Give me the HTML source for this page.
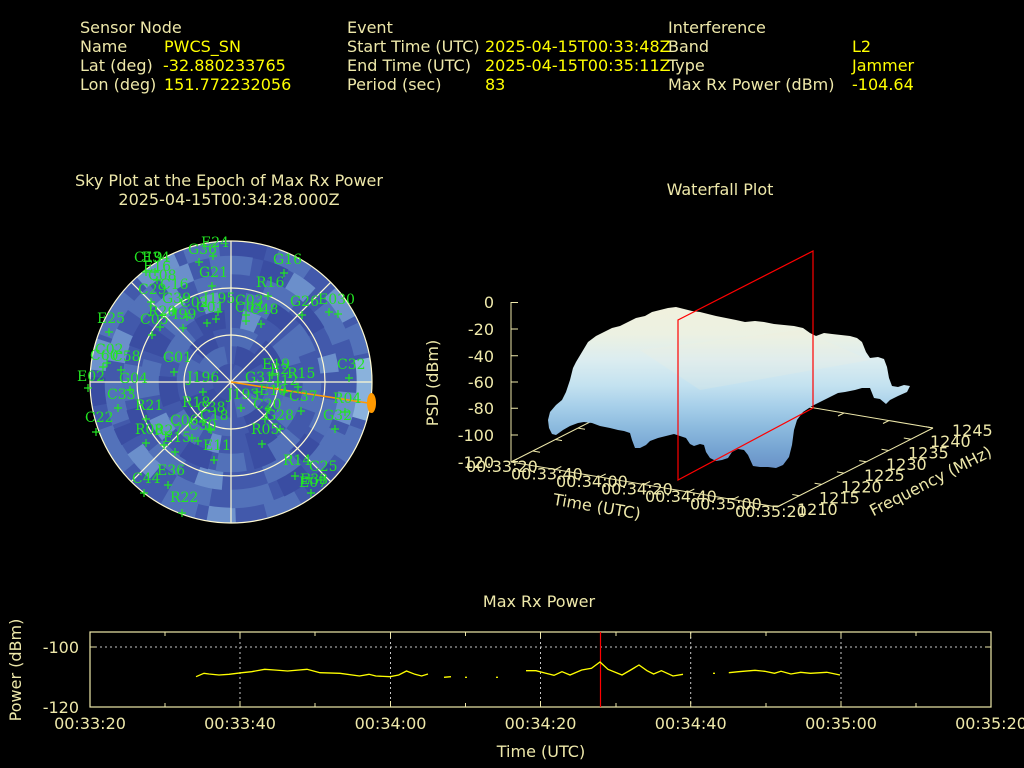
<!DOCTYPE html>
<html><head><meta charset="utf-8"><style>
html,body{margin:0;padding:0;background:#000;}
svg{display:block;}
text{font-family:"DejaVu Sans","Liberation Sans",sans-serif;font-size:16px;}
.l{fill:#eee8aa}
.v{fill:#ffff00}
text.g{font-family:"DejaVu Serif","Liberation Serif",serif;font-size:14px;fill:#22e622}
</style></head><body>
<svg width="1024" height="768" viewBox="0 0 1024 768" xmlns="http://www.w3.org/2000/svg">
<defs>
<clipPath id="disc"><circle cx="231" cy="382" r="141"/></clipPath>
<linearGradient id="wf" gradientUnits="userSpaceOnUse" x1="0" y1="300" x2="0" y2="470">
<stop offset="0" stop-color="#f2f1dc"/>
<stop offset="0.2" stop-color="#ecf1e2"/>
<stop offset="0.35" stop-color="#dcedf0"/>
<stop offset="0.5" stop-color="#c4e2f0"/>
<stop offset="0.62" stop-color="#a8d0ea"/>
<stop offset="0.75" stop-color="#8cbade"/>
<stop offset="0.88" stop-color="#76a4d2"/>
<stop offset="1" stop-color="#6890c6"/>
</linearGradient>
</defs>
<rect width="1024" height="768" fill="#000"/>

<!-- Header -->
<text class="l" x="80" y="33">Sensor Node</text>
<text class="l" x="80" y="52">Name</text><text class="v" x="164" y="52">PWCS_SN</text>
<text class="l" x="80" y="71">Lat (deg)</text><text class="v" x="163" y="71">-32.880233765</text>
<text class="l" x="80" y="90">Lon (deg)</text><text class="v" x="164" y="90">151.772232056</text>

<text class="l" x="347" y="33">Event</text>
<text class="l" x="347" y="52">Start Time (UTC)</text><text class="v" x="485" y="52">2025-04-15T00:33:48Z</text>
<text class="l" x="347" y="71">End Time (UTC)</text><text class="v" x="485" y="71">2025-04-15T00:35:11Z</text>
<text class="l" x="347" y="90">Period (sec)</text><text class="v" x="485" y="90">83</text>

<text class="l" x="668" y="33">Interference</text>
<text class="l" x="668" y="52">Band</text><text class="v" x="852" y="52">L2</text>
<text class="l" x="668" y="71">Type</text><text class="v" x="852" y="71">Jammer</text>
<text class="l" x="668" y="90">Max Rx Power (dBm)</text><text class="v" x="852" y="90">-104.64</text>

<!-- Sky plot titles -->
<text class="l" x="229" y="186" text-anchor="middle">Sky Plot at the Epoch of Max Rx Power</text>
<text class="l" x="229" y="205" text-anchor="middle">2025-04-15T00:34:28.000Z</text>

<!-- Sky plot mosaic -->
<g clip-path="url(#disc)">
<circle cx="231" cy="382" r="141" fill="#4259ab"/>
<g fill="none" stroke-width="18.6" transform="translate(231 382)">
<circle r="135" pathLength="360" stroke="#5372ba" stroke-dasharray="0 20 15 25 15 30 15 20 20 40 20 30 15 25 15 30 13 12"/>
<circle r="135" pathLength="360" stroke="#3a4da2" stroke-dasharray="0 40 15 115 12 88 15 75"/>
<circle r="135" pathLength="360" stroke="#6e92cc" stroke-dasharray="0 88 12 85 13 30 18 72 14 38"/>
<circle r="135" pathLength="360" stroke="#8ab2dc" stroke-dasharray="16 334 10"/>

<circle r="117" pathLength="360" stroke="#5372ba" stroke-dasharray="0 25 20 25 20 10 20 40 20 35 15 30 20 40 20 20"/>
<circle r="117" pathLength="360" stroke="#3a4da2" stroke-dasharray="0 50 15 85 8 127 12 63"/>
<circle r="117" pathLength="360" stroke="#6b8fcb" stroke-dasharray="0 5 15 110 15 45 15 30 15 50 12 48"/>

<circle r="99" pathLength="360" stroke="#5271b9" stroke-dasharray="0 10 20 20 20 50 20 30 20 60 20 20 20 50"/>
<circle r="99" pathLength="360" stroke="#3a4da2" stroke-dasharray="0 35 13 102 15 35 15 100 15 30"/>
<circle r="99" pathLength="360" stroke="#6b8fcb" stroke-dasharray="0 95 15 115 15 105 10 5"/>

<circle r="81" pathLength="360" stroke="#5271b9" stroke-dasharray="20 20 20 20 20 70 25 25 20 40 20 20 20 20"/>
<circle r="81" pathLength="360" stroke="#3a4da2" stroke-dasharray="0 60 15 30 20 75 15 85 15 45"/>
<circle r="81" pathLength="360" stroke="#6b8fcb" stroke-dasharray="0 140 15 95 12 98"/>

<circle r="63" pathLength="360" stroke="#5271b9" stroke-dasharray="0 15 25 80 30 50 30 90 25 15"/>
<circle r="63" pathLength="360" stroke="#3a4da2" stroke-dasharray="0 50 25 85 25 55 25 95"/>
<circle r="63" pathLength="360" stroke="#6b8fcb" stroke-dasharray="0 100 10 170 15 65"/>

<circle r="45" pathLength="360" stroke="#4e6cb6" stroke-dasharray="30 60 30 60 30 60 30 60"/>
<circle r="45" pathLength="360" stroke="#3a4da2" stroke-dasharray="0 40 30 60 30 60 30 60 30 20"/>

<circle r="27" pathLength="360" stroke="#4e6cb6" stroke-dasharray="0 30 50 120 60 100"/>
<circle r="27" pathLength="360" stroke="#3a4da2" stroke-dasharray="0 100 60 120 50 30"/>
<circle r="9" pathLength="360" stroke="#3e52a6" stroke-dasharray="0 90 180 90"/>
</g>
</g>

<!-- Sky grid -->
<g fill="none" stroke="#fffad2" stroke-width="1.2">
<circle cx="231" cy="382" r="141"/>
<circle cx="231" cy="382" r="94"/>
<circle cx="231" cy="382" r="47"/>
<line x1="90" y1="382" x2="372" y2="382"/>
<line x1="231" y1="241" x2="231" y2="523"/>
<line x1="131.3" y1="282.3" x2="330.7" y2="481.7"/>
<line x1="131.3" y1="481.7" x2="330.7" y2="282.3"/>
</g>

<!-- Orange jammer line -->
<line x1="231" y1="382" x2="368" y2="403" stroke="#ff9900" stroke-width="1.6"/>
<ellipse cx="371.5" cy="403" rx="4.5" ry="10" fill="#ff9900"/>

<!-- Satellite markers -->
<path stroke="#22e622" stroke-width="1.2" fill="none" d="
M195,262h8M199,258v8 M209,256h8M213,252v8 M142,272h8M146,268v8 M151,272h8M155,268v8
M153,280h8M157,276v8 M147,302h8M151,298v8 M169,311h8M173,307v8 M156,327h8M160,323v8
M148,335h8M152,331v8 M179,328h8M183,324v8 M183,317h8M187,313v8 M203,323h8M207,319v8
M212,319h8M216,315v8 M214,312h8M218,308v8 M242,315h8M246,311v8 M242,321h8M246,317v8
M257,324h8M261,320v8 M208,286h8M212,282v8 M280,273h8M284,269v8 M264,296h8M268,292v8
M298,315h8M302,311v8 M325,312h8M329,308v8 M334,314h8M338,310v8 M105,332h8M109,328v8
M99,367h8M103,363v8 M103,363h8M107,359v8 M117,370h8M121,366v8 M84,388h8M88,384v8
M126,390h8M130,386v8 M170,372h8M174,368v8 M199,392h8M203,388v8 M345,378h8M349,374v8
M268,375h8M272,371v8 M274,382h8M278,378v8 M253,392h8M257,388v8 M294,387h8M298,383v8
M280,392h8M284,388v8 M114,408h8M118,404v8 M237,408h8M241,404v8 M297,411h8M301,407v8
M341,412h8M345,408v8 M142,419h8M146,415v8 M205,429h8M209,425v8 M199,422h8M203,418v8
M265,410h8M269,406v8 M261,419h8M265,415v8 M276,429h8M280,425v8 M331,429h8M335,425v8
M92,432h8M96,428v8 M142,443h8M146,439v8 M188,438h8M192,434v8 M194,441h8M198,437v8
M207,430h8M211,426v8 M160,445h8M164,441v8 M171,452h8M175,448v8 M258,444h8M262,440v8
M210,460h8M214,456v8 M291,476h8M295,472v8 M305,478h8M309,474v8 M317,480h8M321,476v8
M307,493h8M311,489v8 M164,485h8M168,481v8 M140,493h8M144,489v8 M178,513h8M182,509v8"/>

<!-- Satellite labels -->
<g>
<text class="g" x="201" y="247">E24</text>
<text class="g" x="188" y="254">G36</text>
<text class="g" x="134" y="262">C19</text>
<text class="g" x="142" y="262">E34</text>
<text class="g" x="143" y="271">E16</text>
<text class="g" x="148" y="280">C08</text>
<text class="g" x="160" y="289">C16</text>
<text class="g" x="138" y="294">C29</text>
<text class="g" x="162" y="303">G39</text>
<text class="g" x="180" y="307">C02</text>
<text class="g" x="203" y="303">J195</text>
<text class="g" x="196" y="312">C01</text>
<text class="g" x="235" y="305">C03</text>
<text class="g" x="235" y="312">C04</text>
<text class="g" x="250" y="314">C48</text>
<text class="g" x="148" y="316">R20</text>
<text class="g" x="173" y="319">I99</text>
<text class="g" x="140" y="324">C05</text>
<text class="g" x="199" y="277">G21</text>
<text class="g" x="273" y="264">G16</text>
<text class="g" x="256" y="287">R16</text>
<text class="g" x="290" y="306">G26</text>
<text class="g" x="318" y="304">E030</text>
<text class="g" x="97" y="323">E25</text>
<text class="g" x="95" y="354">C02</text>
<text class="g" x="90" y="360">C60</text>
<text class="g" x="112" y="361">C58</text>
<text class="g" x="77" y="381">E02</text>
<text class="g" x="119" y="383">G04</text>
<text class="g" x="163" y="362">G01</text>
<text class="g" x="187" y="382">J196</text>
<text class="g" x="337" y="369">C32</text>
<text class="g" x="262" y="369">E19</text>
<text class="g" x="270" y="374">E2</text>
<text class="g" x="287" y="378">R15</text>
<text class="g" x="245" y="382">G31</text>
<text class="g" x="275" y="385">J12</text>
<text class="g" x="107" y="399">C33</text>
<text class="g" x="227" y="399">J193</text>
<text class="g" x="259" y="395">E10</text>
<text class="g" x="289" y="401">C37</text>
<text class="g" x="333" y="403">R04</text>
<text class="g" x="135" y="410">R21</text>
<text class="g" x="182" y="407">R18</text>
<text class="g" x="197" y="412">C38</text>
<text class="g" x="200" y="420">C18</text>
<text class="g" x="253" y="409">C20</text>
<text class="g" x="265" y="420">G28</text>
<text class="g" x="323" y="420">G32</text>
<text class="g" x="85" y="422">C22</text>
<text class="g" x="135" y="434">R08</text>
<text class="g" x="154" y="435">R27</text>
<text class="g" x="170" y="425">C06</text>
<text class="g" x="188" y="430">C30</text>
<text class="g" x="163" y="442">E15</text>
<text class="g" x="251" y="434">R05</text>
<text class="g" x="203" y="450">E11</text>
<text class="g" x="283" y="465">R14</text>
<text class="g" x="309" y="471">C25</text>
<text class="g" x="300" y="484">E33</text>
<text class="g" x="299" y="487">E07</text>
<text class="g" x="157" y="475">E36</text>
<text class="g" x="132" y="483">C44</text>
<text class="g" x="170" y="502">R22</text>
</g>

<!-- Waterfall -->
<text class="l" x="720" y="195" text-anchor="middle">Waterfall Plot</text>
<g stroke="#eee8aa" stroke-width="1" fill="none">
<line x1="511" y1="462" x2="667" y2="383"/>
<line x1="667" y1="383" x2="933" y2="428"/>
<path d="M533,451l7,1.2M555,439.4l7,1.2M578,428.1l7,1.2M600,416.8l7,1.2M622,405.5l7,1.2M645,394.2l7,1.2
M711,390.5l-6,3M756,398l-6,3M800,405.5l-6,3M844,413l-6,3M889,420.5l-6,3"/>
</g>
<path d="M548,420 L550,412 556,405 562,400 566,392 570,380 573,368 576,362 582,352 588,342 596,336 604,332 612,328 620,326 628,322 636,318 645,316 652,312 660,310 668,308 676,307 684,309 692,311 700,312 708,314 716,316 726,318 736,320 745,322 755,321 764,322 774,324 784,325 794,326 803,328 810,333 816,336 824,333 832,334 841,335 850,336 857,338 862,342 866,352 870,358 878,357 884,359 887,367 889,378 892,386 898,387 904,385 910,386 907,392 898,396 890,400 886,404 880,399 874,398 870,388 862,388 855,390 845,392 838,393 830,397 820,402 812,406 803,412 797,420 794,430 792,445 789,457 783,465 776,468 768,467 760,467 753,466 748,455 744,450 738,449 732,452 728,458 722,460 716,461 710,458 706,452 704,445 700,444 694,446 690,444 686,438 680,436 674,434 666,436 658,438 650,441 646,445 640,448 635,448 632,440 630,433 624,431 618,430 610,428 600,426 592,423 584,422 578,423 570,426 563,430 556,435 552,434 549,428 Z" fill="url(#wf)"/>
<path d="M640,350 L800,330 L870,360 L700,390 Z" fill="#f4f0dc" opacity="0.2"/>

<g stroke="#eee8aa" stroke-width="1" fill="none">
<line x1="511" y1="302" x2="511" y2="462"/>
<path d="M511,302.5h7M511,329h7M511,355.7h7M511,382h7M511,408.3h7M511,435h7M511,461.5h7"/>
<line x1="511" y1="462" x2="777" y2="507"/>
<path d="M511,462l6,-3M555.3,469.5l6,-3M599.7,477l6,-3M644,484.5l6,-3M688.3,492l6,-3M732.7,499.5l6,-3M777,507l6,-3"/>
<line x1="777" y1="507" x2="933" y2="428"/>
<path d="M799.3,495.7l-7,-1.2M821.6,484.4l-7,-1.2M843.9,473.1l-7,-1.2M866.2,461.8l-7,-1.2M888.5,450.5l-7,-1.2M910.8,439.2l-7,-1.2M933,428l-7,-1.2"/>
</g>
<g class="l" text-anchor="end">
<text x="494" y="308">0</text>
<text x="494" y="335">-20</text>
<text x="494" y="362">-40</text>
<text x="494" y="388">-60</text>
<text x="494" y="414">-80</text>
<text x="494" y="441">-100</text>
<text x="494" y="468">-120</text>
</g>
<g class="l">
<text x="466" y="472">00:33:20</text>
<text x="511" y="479.5">00:33:40</text>
<text x="556" y="487">00:34:00</text>
<text x="601" y="494.5">00:34:20</text>
<text x="645" y="502">00:34:40</text>
<text x="690" y="509.5">00:35:00</text>
<text x="735" y="517">00:35:20</text>
<text x="797" y="515">1210</text>
<text x="819" y="503.7">1215</text>
<text x="841" y="492.4">1220</text>
<text x="864" y="481.1">1225</text>
<text x="886" y="469.8">1230</text>
<text x="908" y="458.5">1235</text>
<text x="930" y="447.2">1240</text>
<text x="952" y="435.9">1245</text>
</g>
<text class="l" transform="translate(438 383) rotate(-90)" text-anchor="middle">PSD (dBm)</text>
<text class="l" transform="translate(596 512) rotate(9.6)" text-anchor="middle">Time (UTC)</text>
<text class="l" transform="translate(933 486) rotate(-27)" text-anchor="middle">Frequency (MHz)</text>

<!-- Red plane -->
<path d="M678,480 L678,320 L813,251 L813,408 Z" fill="none" stroke="#ff0000" stroke-width="1.2"/>

<!-- Max Rx Power chart -->
<text class="l" x="539" y="607" text-anchor="middle">Max Rx Power</text>
<g stroke="#c8c8c8" stroke-width="1" stroke-dasharray="2 3" fill="none">
<line x1="90" y1="647" x2="991" y2="647"/>
<line x1="240" y1="632" x2="240" y2="707"/>
<line x1="390.5" y1="632" x2="390.5" y2="707"/>
<line x1="540.5" y1="632" x2="540.5" y2="707"/>
<line x1="690.7" y1="632" x2="690.7" y2="707"/>
<line x1="841" y1="632" x2="841" y2="707"/>
</g>
<rect x="90" y="632" width="901" height="75" fill="none" stroke="#eee8aa" stroke-width="1.2"/>
<path stroke="#eee8aa" stroke-width="1" fill="none" d="M90,647h6M991,647h-6
M165,632v4M165,707v-4M315,632v4M315,707v-4M465.5,632v4M465.5,707v-4M616,632v4M616,707v-4M766,632v4M766,707v-4M916,632v4M916,707v-4
M240,632v6M240,707v-6M390.5,632v6M390.5,707v-6M540.5,632v6M540.5,707v-6M690.7,632v6M690.7,707v-6M841,632v6M841,707v-6"/>
<line x1="600.5" y1="632" x2="600.5" y2="707" stroke="#ff0000" stroke-width="1.2"/>
<g stroke="#ffff00" stroke-width="1.3" fill="none">
<polyline points="196,676.7 204,673.3 209,674 219,675 229,674.3 242,672.7 251.6,671.7 264.7,669.3 274.5,670 287.6,671 307,669.3 320,672.7 340,673.3 359.5,676 369,674.3 375.8,676 390,676.7 398.7,675 406.5,671 415,674.3 421.6,676 428,674"/>
<polyline points="444,677.3 451,676.7"/>
<polyline points="465,677.3 467,677.3"/>
<polyline points="496,677.3 498,677.3"/>
<polyline points="526,670.7 536,670.7 545.8,673.3 554,675.3 562,671.7 570,675 581.7,670 591.5,668.3 600,662 608,669.3 622,675 630.7,670 639,665 647,670.7 653.6,674 661.4,670.7 673,676 683,674.3"/>
<polyline points="713,673.3 715,673.3"/>
<polyline points="728.8,672.7 738.6,671.7 755,670.3 764.7,671.3 774.5,673.3 781,671.3 791,674 800.7,672.3 810.5,673.3 826.8,672.3 840,675"/>
</g>
<g class="l" text-anchor="end">
<text x="79" y="653">-100</text>
<text x="79" y="713">-120</text>
</g>
<g class="l" text-anchor="middle">
<text x="90" y="729">00:33:20</text>
<text x="240" y="729">00:33:40</text>
<text x="390.5" y="729">00:34:00</text>
<text x="540.5" y="729">00:34:20</text>
<text x="690.7" y="729">00:34:40</text>
<text x="841" y="729">00:35:00</text>
<text x="991" y="729">00:35:20</text>
<text x="541" y="757">Time (UTC)</text>
</g>
<text class="l" transform="translate(21 670) rotate(-90)" text-anchor="middle">Power (dBm)</text>
</svg>
</body></html>
